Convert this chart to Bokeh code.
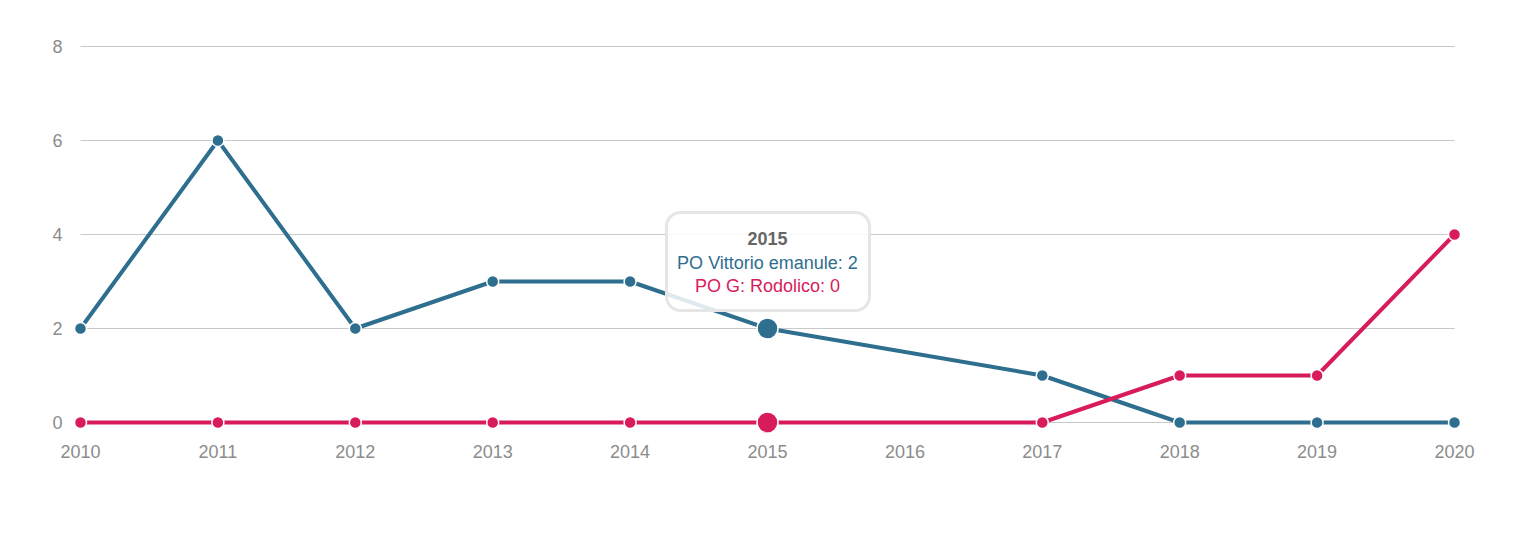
from bokeh.plotting import figure
from bokeh.models import FixedTicker, BoxAnnotation, Label
from bokeh.embed import file_html
from bokeh.resources import INLINE

tick_years = [2010, 2011, 2012, 2013, 2014, 2015, 2016, 2017, 2018, 2019, 2020]
years = [2010, 2011, 2012, 2013, 2014, 2015, 2017, 2018, 2019, 2020]
vittorio = [2, 6, 2, 3, 3, 2, 1, 0, 0, 0]
rodolico = [0, 0, 0, 0, 0, 0, 0, 1, 1, 4]
y_ticks = [0, 2, 4, 6, 8]
series_names = ["PO Vittorio emanule", "PO G: Rodolico"]
hover_year = 2015

BLUE = "#2E6E8E"
RED = "#D81B5B"
LABEL = "#8c8c8c"
FONT = "Liberation Sans"

px_per_year = 137.4
px_per_unit = 47.0
pad_x = 14 / px_per_year
pad_y = 10 / px_per_unit

p = figure(width=1510, height=530, output_backend="svg", toolbar_location=None,
           x_range=(tick_years[0] - pad_x, tick_years[-1] + pad_x),
           y_range=(y_ticks[0] - pad_y, y_ticks[-1] + pad_y),
           frame_width=1402, frame_height=396,
           min_border_left=66, min_border_top=36, min_border_right=40, min_border_bottom=96)
p.outline_line_color = None
p.background_fill_color = "white"
p.border_fill_color = "white"
p.xgrid.visible = False
p.ygrid.visible = False

# grid lines spanning the data range
p.segment(x0=[tick_years[0]] * len(y_ticks), x1=[tick_years[-1]] * len(y_ticks),
          y0=y_ticks, y1=y_ticks, line_color="#c8c8c8", line_width=1)

for ax in (p.xaxis[0], p.yaxis[0]):
    ax.axis_line_color = None
    ax.major_tick_line_color = None
    ax.minor_tick_line_color = None
    ax.major_tick_out = 0
    ax.major_tick_in = 0
    ax.major_label_text_color = LABEL
    ax.major_label_text_font = FONT
    ax.major_label_text_font_size = "18px"
p.xaxis.ticker = FixedTicker(ticks=tick_years)
p.yaxis.ticker = FixedTicker(ticks=y_ticks)
p.xaxis.major_label_standoff = 12
p.yaxis.major_label_standoff = 4

for vals, col in ((vittorio, BLUE), (rodolico, RED)):
    p.line(years, vals, line_color=col, line_width=4)
    p.scatter(years, vals, size=12, fill_color=col, line_color="white", line_width=1.5)
    i = years.index(hover_year)
    p.scatter([years[i]], [vals[i]], size=21, fill_color=col, line_color="white", line_width=1.5)

# tooltip
i = years.index(hover_year)
box = BoxAnnotation(left=hover_year - 101 / px_per_year, right=hover_year + 102 / px_per_year,
                    top=4.468, bottom=2.383,
                    fill_color="white", fill_alpha=0.85,
                    line_color="#e6e6e6", line_alpha=1.0, line_width=3, border_radius=14)
p.add_layout(box)
p.add_layout(Label(x=hover_year, y=3.915, text=str(hover_year), text_align="center",
                   text_baseline="middle", text_font=FONT, text_font_size="18px",
                   text_font_style="bold", text_color="#666666"))
p.add_layout(Label(x=hover_year, y=3.383, text=f"{series_names[0]}: {vittorio[i]}",
                   text_align="center", text_baseline="middle", text_font=FONT,
                   text_font_size="18px", text_color=BLUE))
p.add_layout(Label(x=hover_year, y=2.894, text=f"{series_names[1]}: {rodolico[i]}",
                   text_align="center", text_baseline="middle", text_font=FONT,
                   text_font_size="18px", text_color=RED))

open("out.html", "w").write(file_html(p, INLINE))
